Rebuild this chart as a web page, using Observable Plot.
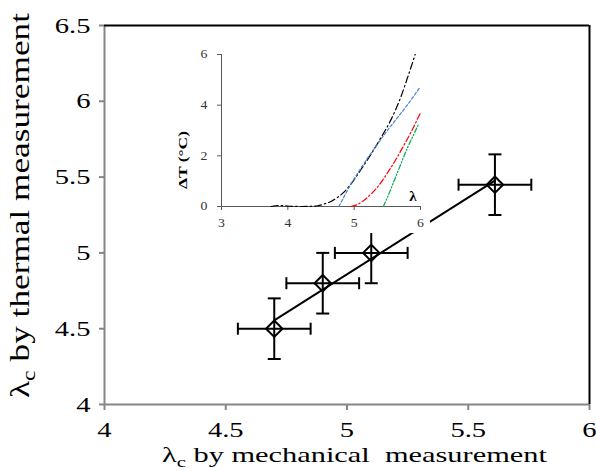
<!DOCTYPE html>
<html><head><meta charset="utf-8">
<script src="https://cdn.jsdelivr.net/npm/d3@7"></script>
<script src="https://cdn.jsdelivr.net/npm/@observablehq/plot@0.6"></script>
<style>
body{margin:0;background:#fff;}
#wrap{position:relative;width:596px;height:471px;overflow:hidden;background:#fff;}
#main{position:absolute;left:0;top:0;}
#inset{position:absolute;left:170px;top:30px;background:#fff;}
svg{overflow:visible;}
</style></head><body>
<div id="wrap"><div id="main"></div><div id="inset"></div></div>
<script>
// ---- main chart data ----
const mechLambda  = [4.70, 4.90, 5.10, 5.61];
const thermLambda = [4.50, 4.80, 5.00, 5.45];
const mechErr  = [0.15, 0.15, 0.15, 0.15];
const thermErr = [0.20, 0.20, 0.20, 0.20];
const xTicks = [4, 4.5, 5, 5.5, 6];
const yTicks = [4, 4.5, 5, 5.5, 6, 6.5];
const xLabel = ["λ", "c", " by mechanical  measurement"];
const yLabel = ["λ", "c", " by thermal measurement"];

// ---- inset data ----
const insetXTicks = [3, 4, 5, 6];
const insetYTicks = [0, 2, 4, 6];
const blackL = [3.75, 3.85, 3.95, 4.05, 4.2, 4.35, 4.45, 4.55, 4.65, 4.75, 4.85, 4.95, 5.1, 5.25, 5.4, 5.55, 5.7, 5.8, 5.92];
const blackT = [0, 0.04, 0.03, 0.01, 0, 0.01, 0.03, 0.1, 0.2, 0.36, 0.58, 0.88, 1.45, 2.05, 2.7, 3.4, 4.3, 5.05, 6.0];
const blueL = [4.77, 4.85, 4.95, 5.05, 5.2, 5.35, 5.5, 5.65, 5.8, 5.95, 5.99];
const blueT = [0, 0.4, 0.88, 1.3, 1.9, 2.45, 3.0, 3.5, 4.0, 4.55, 4.7];
const redL = [4.95, 5.05, 5.15, 5.25, 5.35, 5.45, 5.55, 5.65, 5.75, 5.85, 6.0];
const redT = [0, 0.08, 0.25, 0.48, 0.76, 1.12, 1.52, 1.95, 2.42, 2.9, 3.7];
const greenL = [5.44, 5.5, 5.6, 5.7, 5.8, 5.9, 5.97];
const greenT = [0, 0.35, 1.0, 1.65, 2.3, 2.85, 3.25];
const insetYLabel = "ΔT (°C)";
const insetXLabel = "λ";

const points = mechLambda.map((x, i) => ({x, y: thermLambda[i], ex: mechErr[i], ey: thermErr[i]}));
const capH = {draw(ctx) { ctx.moveTo(-6.5, 0); ctx.lineTo(6.5, 0); }};
const capV = {draw(ctx) { ctx.moveTo(0, -6); ctx.lineTo(0, 6); }};
const serif = "'Liberation Serif','Times New Roman',serif";
const axisGrey = "#868686";

const main = Plot.plot({
  width: 596, height: 471,
  marginLeft: 104, marginRight: 7, marginTop: 25, marginBottom: 67,
  x: {domain: [4, 6]}, y: {domain: [4, 6.5]},
  style: {fontFamily: serif, background: "transparent", color: "black"},
  marks: [
    Plot.axisY({ticks: yTicks, tickSize: 5, tickPadding: 9, stroke: axisGrey, strokeWidth: 2, fill: "black", fontSize: 22, label: null, tickFormat: d => String(d)}),
    Plot.axisX({ticks: xTicks, tickSize: 6, tickPadding: 11, stroke: axisGrey, strokeWidth: 2, fill: "black", fontSize: 22, label: null, tickFormat: d => String(d)}),
    Plot.ruleX([4], {stroke: axisGrey, strokeWidth: 2}),
    Plot.ruleY([4], {stroke: axisGrey, strokeWidth: 2}),
    Plot.ruleY([6.5], {stroke: "black", strokeWidth: 2}),
    Plot.ruleX([6], {stroke: "black", strokeWidth: 2}),
    Plot.linearRegressionY(points, {x: "x", y: "y", ci: 0, stroke: "black", strokeWidth: 2}),
    Plot.ruleX(points, {x: "x", y1: d => d.y - d.ey, y2: d => d.y + d.ey, stroke: "black", strokeWidth: 2}),
    Plot.ruleY(points, {y: "y", x1: d => d.x - d.ex, x2: d => d.x + d.ex, stroke: "black", strokeWidth: 2}),
    Plot.dot(points, {x: "x", y: d => d.y - d.ey, symbol: capH, r: 1, stroke: "black", strokeWidth: 2, fill: "none"}),
    Plot.dot(points, {x: "x", y: d => d.y + d.ey, symbol: capH, r: 1, stroke: "black", strokeWidth: 2, fill: "none"}),
    Plot.dot(points, {x: d => d.x - d.ex, y: "y", symbol: capV, r: 1, stroke: "black", strokeWidth: 2, fill: "none"}),
    Plot.dot(points, {x: d => d.x + d.ex, y: "y", symbol: capV, r: 1, stroke: "black", strokeWidth: 2, fill: "none"}),
    Plot.dot(points, {x: "x", y: "y", symbol: "diamond2", r: 7.4, stroke: "black", strokeWidth: 2, fill: "none"})
  ]
});
document.getElementById("main").appendChild(main);

function stretch(svg, sel, sx) {
  d3.select(svg).selectAll(sel).each(function() {
    const t = this.getAttribute("transform") || "";
    this.setAttribute("transform", t + ` scale(${sx},1)`);
  });
}
stretch(main, 'g[aria-label="y-axis tick label"] text', 1.3);
stretch(main, 'g[aria-label="x-axis tick label"] text', 1.3);

// label with subscript; scaled along its length to a target length
function addLabel(svg, parts, x, y, rot, target, size, subSize) {
  const t = d3.select(svg).append("text").attr("font-family", serif).attr("font-size", size)
    .attr("fill", "black").attr("text-anchor", "start");
  t.append("tspan").text(parts[0]);
  t.append("tspan").attr("font-size", subSize).attr("dy", size * 0.22).text(parts[1]);
  t.append("tspan").attr("dy", -size * 0.22).text(parts[2]);
  const len = t.node().getComputedTextLength();
  const sx = target / len;
  t.attr("transform", `translate(${x},${y}) rotate(${rot}) scale(${sx},1)`);
  return t;
}
addLabel(main, xLabel, 162, 462, 0, 385, 22, 15);
addLabel(main, yLabel, 29, 398, -90, 385, 28, 19);

// ---- inset ----
const series = [
  {L: blackL, T: blackT, color: "black", dash: "7,3,1.5,3"},
  {L: blueL, T: blueT, color: "#4f81d0", dash: "3,2"},
  {L: redL, T: redT, color: "#ff0000", dash: "6,2.5,1.5,2.5"},
  {L: greenL, T: greenT, color: "#00a850", dash: "5,2,1.2,2,1.2,2"}
];
const inset = Plot.plot({
  width: 260, height: 203,
  marginLeft: 51, marginRight: 10, marginTop: 24, marginBottom: 27,
  x: {domain: [3, 6]}, y: {domain: [0, 6]},
  style: {fontFamily: serif, background: "white", color: "black"},
  marks: [
    Plot.axisY({ticks: insetYTicks, tickSize: 4, tickPadding: 10, stroke: "#595959", fill: "#333", fontSize: 12, label: null, tickFormat: d => String(d)}),
    Plot.axisX({ticks: insetXTicks, tickSize: 4, tickPadding: 8, stroke: "#595959", fill: "#333", fontSize: 12, label: null, tickFormat: d => String(d)}),
    Plot.ruleX([3], {stroke: "#595959", strokeWidth: 1}),
    Plot.ruleY([0], {stroke: "#595959", strokeWidth: 1}),
    ...series.map(s => Plot.line(s.L.map((l, i) => ({l, t: s.T[i]})), {x: "l", y: "t", stroke: s.color, strokeWidth: 1.2, strokeDasharray: s.dash, curve: "monotone-x"})),
    Plot.text([insetXLabel], {frameAnchor: "bottom-right", dx: -4, dy: -6, fontWeight: "bold", fontSize: 15, fill: "black", textAnchor: "end", lineAnchor: "bottom"})
  ]
});
document.getElementById("inset").appendChild(inset);
stretch(inset, 'g[aria-label="y-axis tick label"] text', 1.15);
stretch(inset, 'g[aria-label="x-axis tick label"] text', 1.15);
const il = d3.select(inset).append("text")
  .attr("text-anchor", "middle").attr("font-family", serif).attr("font-weight", "bold")
  .attr("font-size", 13).attr("fill", "black")
  .text(insetYLabel);
const ilen = il.node().getComputedTextLength();
il.attr("transform", `translate(17,130) rotate(-90) scale(${58 / ilen},1)`);
</script></body></html>
